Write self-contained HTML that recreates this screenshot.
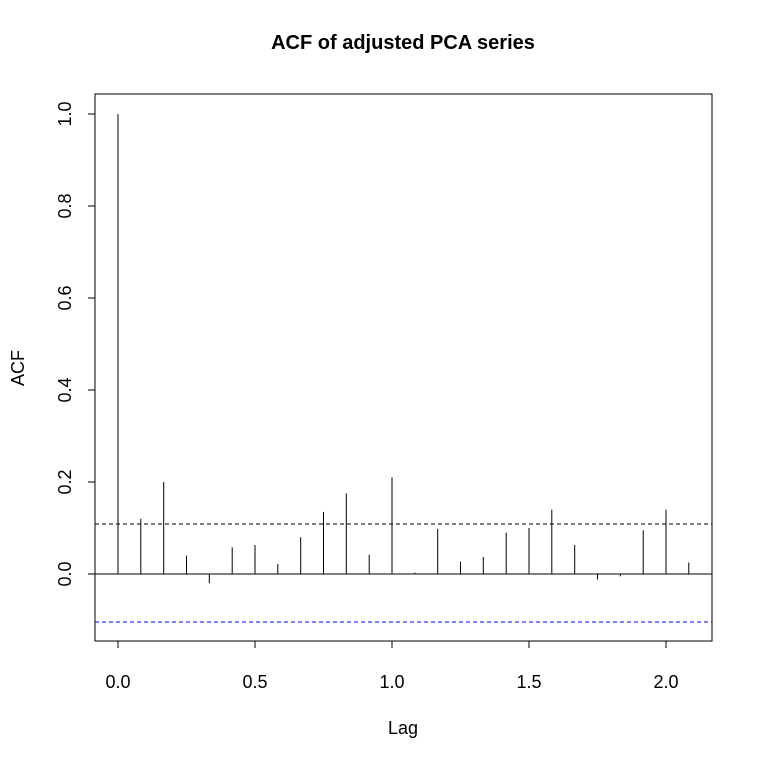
<!DOCTYPE html>
<html><head><meta charset="utf-8"><style>body{margin:0;background:#fff}</style></head><body>
<svg width="761" height="760" xmlns="http://www.w3.org/2000/svg" font-family="Liberation Sans, Arial, sans-serif">
<rect width="761" height="760" fill="#fff"/>
<text x="403" y="49" text-anchor="middle" font-size="20" font-weight="bold">ACF of adjusted PCA series</text>
<rect x="95" y="94" width="617" height="547" fill="none" stroke="#000"/>
<g stroke="#000">
<line x1="118" y1="641" x2="666" y2="641"/>
<line x1="118" y1="641" x2="118" y2="648"/><line x1="255" y1="641" x2="255" y2="648"/><line x1="392" y1="641" x2="392" y2="648"/><line x1="529" y1="641" x2="529" y2="648"/><line x1="666" y1="641" x2="666" y2="648"/>
<line x1="95" y1="114" x2="95" y2="574"/>
<line x1="88" y1="574" x2="95" y2="574"/><line x1="88" y1="482" x2="95" y2="482"/><line x1="88" y1="390" x2="95" y2="390"/><line x1="88" y1="298" x2="95" y2="298"/><line x1="88" y1="206" x2="95" y2="206"/><line x1="88" y1="114" x2="95" y2="114"/>
<line x1="95" y1="574" x2="712" y2="574"/>
</g>
<g font-size="18" text-anchor="middle">
<text x="118" y="688">0.0</text><text x="255" y="688">0.5</text><text x="392" y="688">1.0</text><text x="529" y="688">1.5</text><text x="666" y="688">2.0</text>
<text x="403" y="734">Lag</text>
<text transform="translate(71,574) rotate(-90)">0.0</text>
<text transform="translate(71,482) rotate(-90)">0.2</text>
<text transform="translate(71,390) rotate(-90)">0.4</text>
<text transform="translate(71,298) rotate(-90)">0.6</text>
<text transform="translate(71,206) rotate(-90)">0.8</text>
<text transform="translate(71,114) rotate(-90)">1.0</text>
<text transform="translate(24,368) rotate(-90)">ACF</text>
</g>
<line x1="95" y1="524" x2="712" y2="524" stroke="#000" stroke-dasharray="4,3"/>
<line x1="95" y1="622" x2="712" y2="622" stroke="#0000ff" stroke-dasharray="4,3"/>
<g stroke="#000">
<line x1="118" x2="118" y1="574" y2="114"/>
<line x1="140.8" x2="140.8" y1="574" y2="518.8"/>
<line x1="163.7" x2="163.7" y1="574" y2="482"/>
<line x1="186.5" x2="186.5" y1="574" y2="555.6"/>
<line x1="209.3" x2="209.3" y1="574" y2="583.2"/>
<line x1="232.2" x2="232.2" y1="574" y2="547.3"/>
<line x1="255" x2="255" y1="574" y2="545"/>
<line x1="277.8" x2="277.8" y1="574" y2="563.9"/>
<line x1="300.7" x2="300.7" y1="574" y2="537.2"/>
<line x1="323.5" x2="323.5" y1="574" y2="511.9"/>
<line x1="346.3" x2="346.3" y1="574" y2="493.5"/>
<line x1="369.2" x2="369.2" y1="574" y2="554.7"/>
<line x1="392" x2="392" y1="574" y2="477.4"/>
<line x1="414.8" x2="414.8" y1="574" y2="572.6"/>
<line x1="437.7" x2="437.7" y1="574" y2="528.9"/>
<line x1="460.5" x2="460.5" y1="574" y2="561.6"/>
<line x1="483.3" x2="483.3" y1="574" y2="557"/>
<line x1="506.2" x2="506.2" y1="574" y2="532.6"/>
<line x1="529" x2="529" y1="574" y2="528"/>
<line x1="551.8" x2="551.8" y1="574" y2="509.6"/>
<line x1="574.7" x2="574.7" y1="574" y2="545"/>
<line x1="597.5" x2="597.5" y1="574" y2="579.5"/>
<line x1="620.3" x2="620.3" y1="574" y2="576.3"/>
<line x1="643.2" x2="643.2" y1="574" y2="530.3"/>
<line x1="666" x2="666" y1="574" y2="509.6"/>
<line x1="688.8" x2="688.8" y1="574" y2="562.5"/>
</g>
</svg>
</body></html>
